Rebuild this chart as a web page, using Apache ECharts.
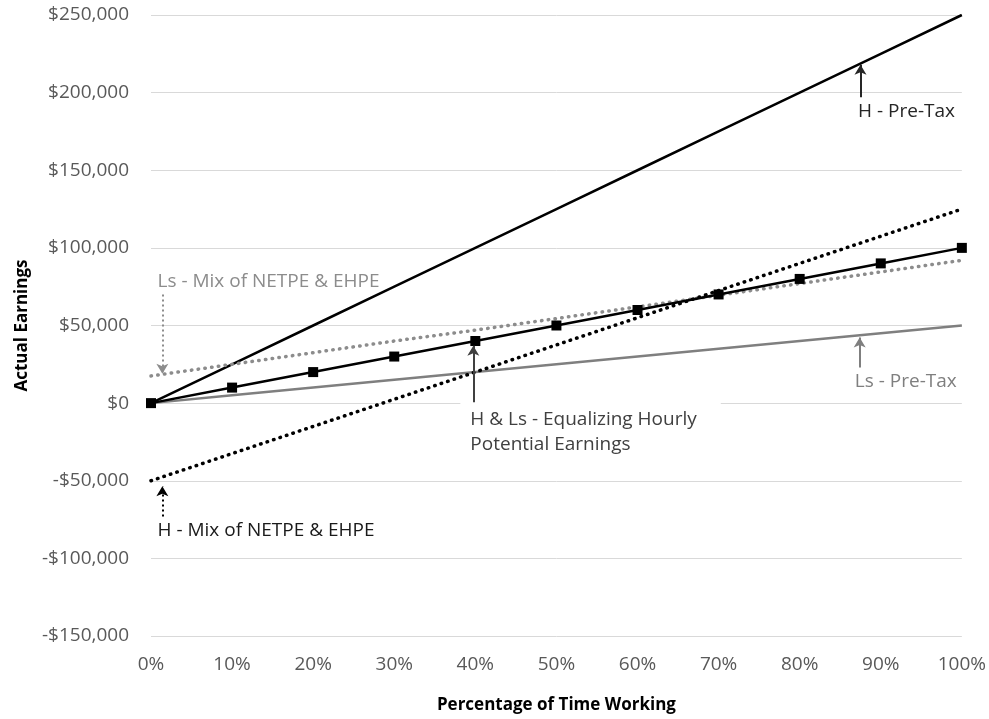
<!DOCTYPE html>
<html lang="en" style="height: 100%">

<head>
  <meta charset="utf-8">
  <style>
    html,
    body {
      margin: 0;
      padding: 0;
      width: 100%;
      height: 100%;
      overflow: hidden;
      background: #fff;
    }
  </style>
</head>

<body>
  <div id="container" style="height: 100%;width: 100%;"></div>

  <script type="text/javascript" src="https://cdn.jsdelivr.net/npm/echarts@6/dist/echarts.min.js"></script>
  <script type="text/javascript">

    var dom = document.getElementById('container');
    var myChart = echarts.init(dom, null, { renderer: 'canvas' });

    // x: percentage of time working
    let pct = [0, 10, 20, 30, 40, 50, 60, 70, 80, 90, 100];
    // y values
    let hPreTax = [0, 25000, 50000, 75000, 100000, 125000, 150000, 175000, 200000, 225000, 250000];
    let lsPreTax = [0, 5000, 10000, 15000, 20000, 25000, 30000, 35000, 40000, 45000, 50000];
    let equalizing = [0, 10000, 20000, 30000, 40000, 50000, 60000, 70000, 80000, 90000, 100000];
    let hMix = [-50000, -32500, -15000, 2500, 20000, 37500, 55000, 72500, 90000, 107500, 125000];
    let lsMix = [17500, 25000, 32500, 40000, 47000, 54500, 62000, 69500, 77000, 84500, 92000];

    let fontFam = '"Open Sans", sans-serif';
    let black = '#000000';
    let grey = '#7f7f7f';

    const pairs = (ys) => pct.map((x, i) => [x, ys[i]]);

    // annotation arrow (data coords)
    const arrow = (x, y1, y2, color, type) => ({
      silent: true,
      animation: false,
      symbol: ['none', 'arrow'],
      symbolSize: [9, 10],
      label: { show: false },
      lineStyle: { color: color, width: 2, type: type },
      data: [[{ coord: [x, y1] }, { coord: [x, y2] }]]
    });

    // annotation text (data coords, left-aligned)
    const note = (x, y, text, color, extra) => ({
      silent: true,
      animation: false,
      symbolSize: 0,
      data: [{
        coord: [x, y],
        label: Object.assign({
          show: true,
          position: 'right',
          distance: 0,
          align: 'left',
          verticalAlign: 'middle',
          formatter: text,
          color: color,
          fontSize: 19,
          fontFamily: fontFam
        }, extra || {})
      }]
    });

    var option = {
      animation: false,
      grid: {
        left: 151,
        right: 27,
        top: 15,
        bottom: 82
      },
      xAxis: {
        type: 'value',
        min: 0,
        max: 100,
        interval: 10,
        name: 'Percentage of Time Working',
        nameLocation: 'middle',
        nameGap: 61,
        nameTextStyle: {
          color: '#000',
          fontWeight: 'bold',
          fontSize: 17,
          fontFamily: fontFam
        },
        axisLine: { show: false, onZero: false },
        axisTick: { show: false },
        splitLine: { show: false },
        axisLabel: {
          color: '#595959',
          fontSize: 19,
          fontFamily: fontFam,
          margin: 19,
          formatter: '{value}%'
        }
      },
      yAxis: {
        type: 'value',
        min: -150000,
        max: 250000,
        interval: 50000,
        name: 'Actual Earnings',
        nameLocation: 'middle',
        nameGap: 118,
        nameTextStyle: {
          color: '#000',
          fontWeight: 'bold',
          fontSize: 17,
          fontFamily: fontFam
        },
        axisLine: { show: false },
        axisTick: { show: false },
        splitLine: {
          show: true,
          lineStyle: { color: '#d9d9d9', width: 1 }
        },
        axisLabel: {
          color: '#595959',
          fontSize: 19,
          fontFamily: fontFam,
          margin: 22,
          formatter: function (v) {
            let s = '$' + Math.abs(v).toLocaleString('en-US');
            return v < 0 ? '-' + s : s;
          }
        }
      },
      series: [
        {
          name: 'H - Pre-Tax',
          type: 'line',
          data: pairs(hPreTax),
          showSymbol: false,
          lineStyle: { color: black, width: 2.5 },
          markLine: arrow(87.5, 197000, 218000, '#262626', 'solid'),
          markPoint: note(87.2, 188000, 'H - Pre-Tax', '#262626')
        },
        {
          name: 'Ls - Pre-Tax',
          type: 'line',
          data: pairs(lsPreTax),
          showSymbol: false,
          lineStyle: { color: grey, width: 2.5 },
          markLine: arrow(87.4, 23000, 42300, grey, 'solid'),
          markPoint: note(86.8, 14000, 'Ls - Pre-Tax', grey)
        },
        {
          name: 'Ls - Mix of NETPE & EHPE',
          type: 'line',
          data: pairs(lsMix),
          showSymbol: false,
          lineStyle: { color: '#8c8c8c', width: 3.5, type: [0.5, 6.3], cap: 'round' },
          markLine: arrow(1.4, 70000, 19000, '#8c8c8c', [2, 3]),
          markPoint: note(0.8, 78500, 'Ls - Mix of NETPE & EHPE', '#8c8c8c')
        },
        {
          name: 'H - Mix of NETPE & EHPE',
          type: 'line',
          data: pairs(hMix),
          showSymbol: false,
          lineStyle: { color: black, width: 3.5, type: [0.5, 6.3], cap: 'round' },
          markLine: arrow(1.4, -73000, -53500, black, [2, 3]),
          markPoint: note(0.8, -82300, 'H - Mix of NETPE & EHPE', '#1a1a1a')
        },
        {
          name: 'H & Ls - Equalizing Hourly Potential Earnings',
          type: 'line',
          data: pairs(equalizing),
          symbol: 'rect',
          symbolSize: 10,
          showSymbol: true,
          itemStyle: { color: black },
          lineStyle: { color: black, width: 2.5 },
          markLine: arrow(39.75, -300, 37000, '#404040', 'solid'),
          markPoint: note(38.15, -18700, 'H & Ls - Equalizing Hourly\nPotential Earnings', '#404040', {
            backgroundColor: '#ffffff',
            padding: [5, 24, 5, 10],
            lineHeight: 25
          })
        }
      ]
    };

    myChart.setOption(option);
    window.addEventListener('resize', myChart.resize);
  </script>
</body>

</html>
